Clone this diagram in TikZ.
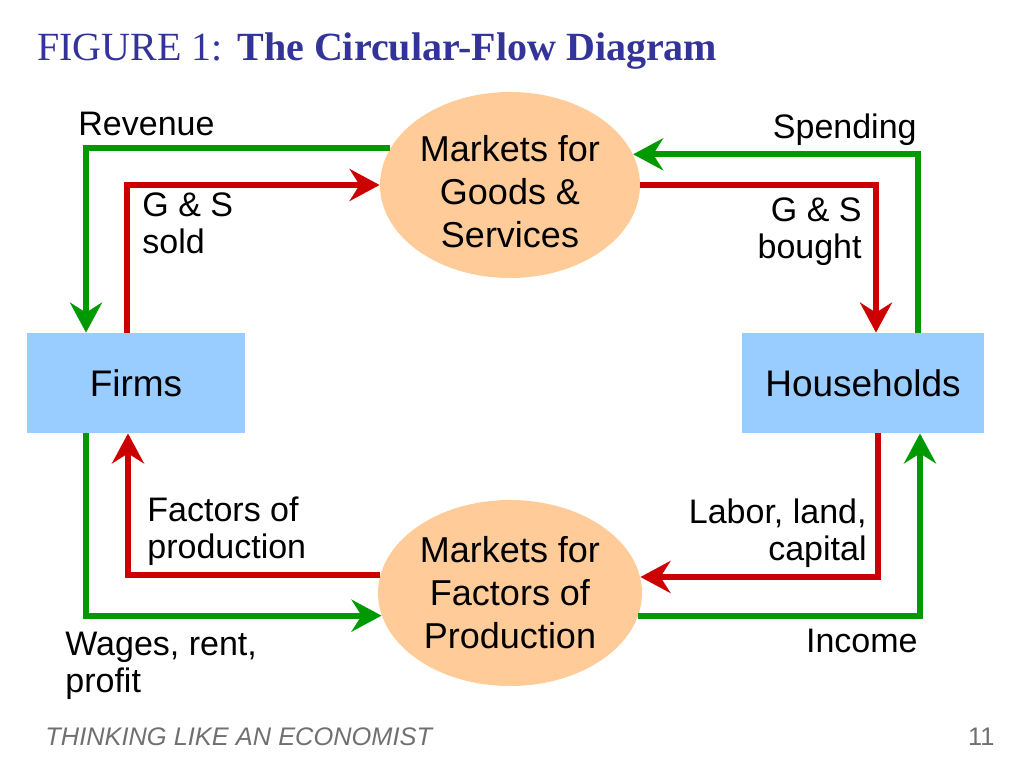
\documentclass[tikz,border=0pt]{standalone}
\usepackage{fontspec}
\setmainfont{Liberation Sans}
\newfontfamily\titlefont{Liberation Serif}
\usetikzlibrary{arrows.meta,shapes.geometric}
\definecolor{flowgreen}{HTML}{009900}
\definecolor{flowred}{HTML}{CC0000}
\definecolor{boxblue}{HTML}{99CCFF}
\definecolor{marketorange}{HTML}{FFCC99}
\definecolor{titleblue}{HTML}{333399}
\definecolor{footgray}{HTML}{707070}

\begin{document}
\begin{tikzpicture}[x=0.5pt,y=-0.5pt,
    sector/.style={fill=boxblue, minimum width=#1, minimum height=50pt, inner sep=0pt,
      font=\fontsize{18.5}{22}\selectfont},
    market/.style={ellipse, fill=marketorange, minimum width=#1, minimum height=93pt,
      inner sep=0pt, align=center, font=\fontsize{18}{21.5}\selectfont},
    greenflow/.style={draw=flowgreen, line width=3pt, -{Stealth[length=15pt,width=16pt,inset=5pt]}},
    redflow/.style={draw=flowred, line width=3pt, -{Stealth[length=15pt,width=16pt,inset=5pt]}},
    lbl/.style={inner sep=0pt, font=\fontsize{17}{18.5}\selectfont}]
  \useasboundingbox (0,0) rectangle (1024,768);

  % title
  \node[anchor=base west, inner sep=0pt, text=titleblue, font=\titlefont\fontsize{20}{24}\selectfont] (figlabel) at (37,60) {FIGURE 1:};
  \node[anchor=base west, inner sep=0pt, text=titleblue, font=\titlefont\bfseries\fontsize{20}{24}\selectfont] (figtitle) at (237,60) {The Circular-Flow Diagram};

  % sectors and markets
  \node[sector=109pt] (firms) at (136,383) {Firms};
  \node[sector=121pt] (households) at (863,383) {Households};
  \node[market=130pt] (gsmarket) at (510,185) {};
  \node[market=130pt, fill=none] (gstext) at ([yshift=-3.5pt]gsmarket.center) {Markets for\\Goods \&\\Services};
  \node[market=132pt] (fpmarket) at (510,593) {Markets for\\Factors of\\Production};

  % goods and services
  \draw[greenflow] (gsmarket.163) -| ([xshift=-25pt]firms.north);
  \draw[redflow] ([xshift=-4.5pt]firms.north) |- (gsmarket.west);
  \draw[redflow] (gsmarket.east) -| ([xshift=6.5pt]households.north);
  \draw[greenflow] ([xshift=27.5pt]households.north) |- (gsmarket.14);

  % factors of production
  \draw[redflow] ([xshift=7.5pt]households.south) |- (fpmarket.7);
  \draw[greenflow] (fpmarket.350) -| ([xshift=28.5pt]households.south);
  \draw[redflow] (fpmarket.172) -| ([xshift=-4pt]firms.south);
  \draw[greenflow] ([xshift=-25pt]firms.south) |- (fpmarket.190);

  % flow labels
  \node[lbl, anchor=base west] (revenue) at (78,135) {Revenue};
  \node[lbl, anchor=base west, align=left] (gssold) at (142,253) {G \& S\\sold};
  \node[lbl, anchor=base east] (spending) at (917,138) {Spending};
  \node[lbl, anchor=base east, align=right] (gsbought) at (862,258) {G \& S\\bought};
  \node[lbl, anchor=base west, align=left] (factors) at (147,558) {Factors of\\production};
  \node[lbl, anchor=base west, align=left] (wages) at (65,692) {Wages, rent,\\profit};
  \node[lbl, anchor=base east, align=right] (labor) at (867,560) {Labor, land,\\capital};
  \node[lbl, anchor=base east] (income) at (918,652) {Income};

  % footer
  \node[anchor=base west, inner sep=0pt, text=footgray, font=\fontsize{12.7}{14}\selectfont\itshape] (footer) at (45,745) {THINKING LIKE AN ECONOMIST};
  \node[anchor=base east, inner sep=0pt, text=footgray, font=\fontsize{12.7}{14}\selectfont] (pagenum) at (995,745) {11};
\end{tikzpicture}
\end{document}
